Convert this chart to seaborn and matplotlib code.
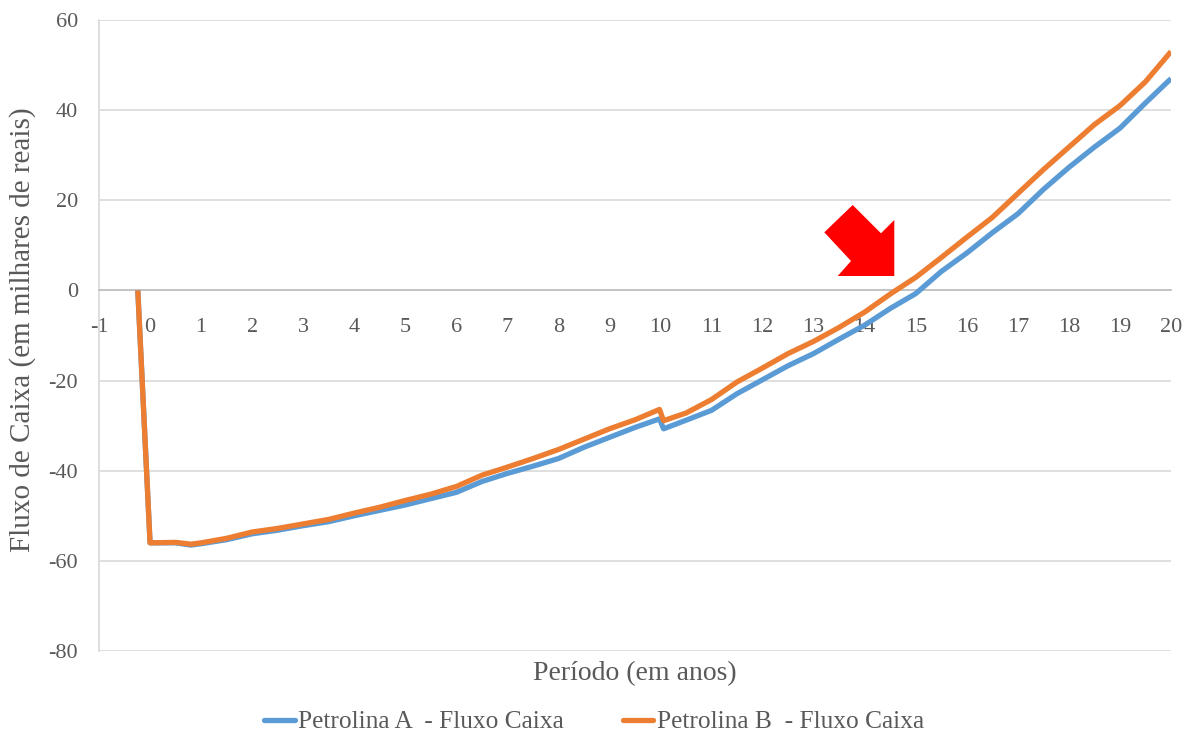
import matplotlib
matplotlib.use("Agg")
import matplotlib.pyplot as plt
from matplotlib.patches import Polygon
from matplotlib.lines import Line2D
import numpy as np
import pandas as pd
import seaborn as sns

# Period in years (first point is the initial investment instant)
periodo = [-0.24, 0.0, 0.5, 0.8, 1.0, 1.5, 2.0, 2.5, 3.0, 3.5, 4.0, 4.5, 5.0,
           5.5, 6.0, 6.5, 7.0, 7.5, 8.0, 8.5, 9.0, 9.5, 9.98, 10.06, 10.5,
           11.0, 11.5, 12.0, 12.5, 13.0, 13.5, 14.0, 14.5, 15.0, 15.5, 16.0,
           16.5, 17.0, 17.5, 18.0, 18.5, 19.0, 19.5, 20.0]

# Accumulated cash flow, thousands of reais
fluxo_a = [0.0, -56.0, -56.0, -56.5, -56.2, -55.3, -54.0, -53.2, -52.2, -51.3,
           -50.0, -48.8, -47.6, -46.2, -44.8, -42.4, -40.6, -39.0, -37.3, -34.8,
           -32.6, -30.4, -28.5, -30.7, -28.8, -26.6, -22.9, -19.8, -16.7, -14.0,
           -10.8, -7.7, -4.0, -0.7, 4.2, 8.3, 12.8, 17.0, 22.4, 27.3, 31.8,
           36.0, 41.6, 47.0]
fluxo_b = [0.0, -56.0, -55.9, -56.3, -56.0, -55.0, -53.6, -52.8, -51.8, -50.8,
           -49.4, -48.1, -46.6, -45.2, -43.5, -41.0, -39.2, -37.3, -35.3, -33.0,
           -30.7, -28.7, -26.4, -28.9, -27.2, -24.2, -20.3, -17.2, -14.0, -11.3,
           -8.2, -4.8, -0.8, 2.9, 7.3, 11.8, 16.2, 21.5, 26.8, 31.8, 36.8,
           41.0, 46.3, 53.0]

serie_a = "Petrolina A  - Fluxo Caixa"
serie_b = "Petrolina B  - Fluxo Caixa"

y_ticks = [-80, -60, -40, -20, 0, 20, 40, 60]
x_ticks = list(range(-1, 21))

df = pd.DataFrame({
    "Período": periodo + periodo,
    "Fluxo": fluxo_a + fluxo_b,
    "Série": [serie_a] * len(periodo) + [serie_b] * len(periodo),
})

sns.set_theme(style="white")
plt.rcParams["font.family"] = ["Liberation Serif", "DejaVu Serif"]
plt.rcParams["axes.unicode_minus"] = False

W, H = 1184, 737
fig = plt.figure(figsize=(W / 100, H / 100), dpi=100)
ax = fig.add_axes([99 / W, 1 - 651 / H, (1171 - 99) / W, (651 - 20) / H])

cores = {serie_a: "#5B9BD5", serie_b: "#ED7D31"}
sns.lineplot(data=df, x="Período", y="Fluxo", hue="Série", palette=cores,
             estimator=None, sort=False, linewidth=3.8, legend=False, ax=ax,
             zorder=3)
for ln in ax.get_lines():
    ln.set_solid_capstyle("butt")
    ln.set_solid_joinstyle("round")

grid_c = "#D9D9D9"
text_c = "#595959"

ax.set_xlim(-1, 20)
ax.set_ylim(-80, 60)
ax.set_yticks(y_ticks)
ax.set_yticklabels([str(t) for t in y_ticks])
ax.set_xticks(x_ticks)
ax.set_xticklabels([str(t) for t in x_ticks])
ax.yaxis.grid(True, color=grid_c, linewidth=1.2)
ax.xaxis.grid(False)
ax.set_axisbelow(True)

for s in ["top", "right"]:
    ax.spines[s].set_visible(False)
ax.spines["left"].set_color(grid_c)
ax.spines["left"].set_linewidth(1.2)
ax.spines["bottom"].set_position(("data", 0))
ax.spines["bottom"].set_color("#BFBFBF")
ax.spines["bottom"].set_linewidth(1.2)

ax.tick_params(axis="y", length=0, pad=15, labelsize=16, labelcolor=text_c)
ax.tick_params(axis="x", direction="inout", length=11, width=1.2,
               color="#BFBFBF", pad=14, labelsize=16, labelcolor=text_c)

ax.set_ylabel("Fluxo de Caixa (em milhares de reais)", fontsize=21,
              color=text_c)
ax.yaxis.set_label_coords(-0.0588, 0.51)
ax.set_xlabel("Período (em anos)", fontsize=20, color=text_c)
ax.xaxis.set_label_coords(0.5, -0.016)

# Payback highlight arrow
seta_px = [(852.7, 205), (824.3, 232.3), (851, 261), (837.7, 276),
           (894.3, 276), (894.3, 220), (881, 233.3)]
seta = Polygon([(x / W, 1 - y / H) for x, y in seta_px], closed=True,
               transform=fig.transFigure, facecolor="#FF0000",
               edgecolor="none", zorder=5)
fig.patches.append(seta)

handles = [Line2D([], [], color=cores[serie_a], linewidth=3.8),
           Line2D([], [], color=cores[serie_b], linewidth=3.8)]
fig.legend(handles, [serie_a, serie_b], loc="center",
           bbox_to_anchor=(594 / W, 1 - 722 / H), ncol=2, frameon=False,
           fontsize=18.3, handlelength=1.2, handletextpad=0.15,
           columnspacing=2.3, labelcolor=text_c)

fig.savefig("out.png", dpi=100, facecolor="white")
